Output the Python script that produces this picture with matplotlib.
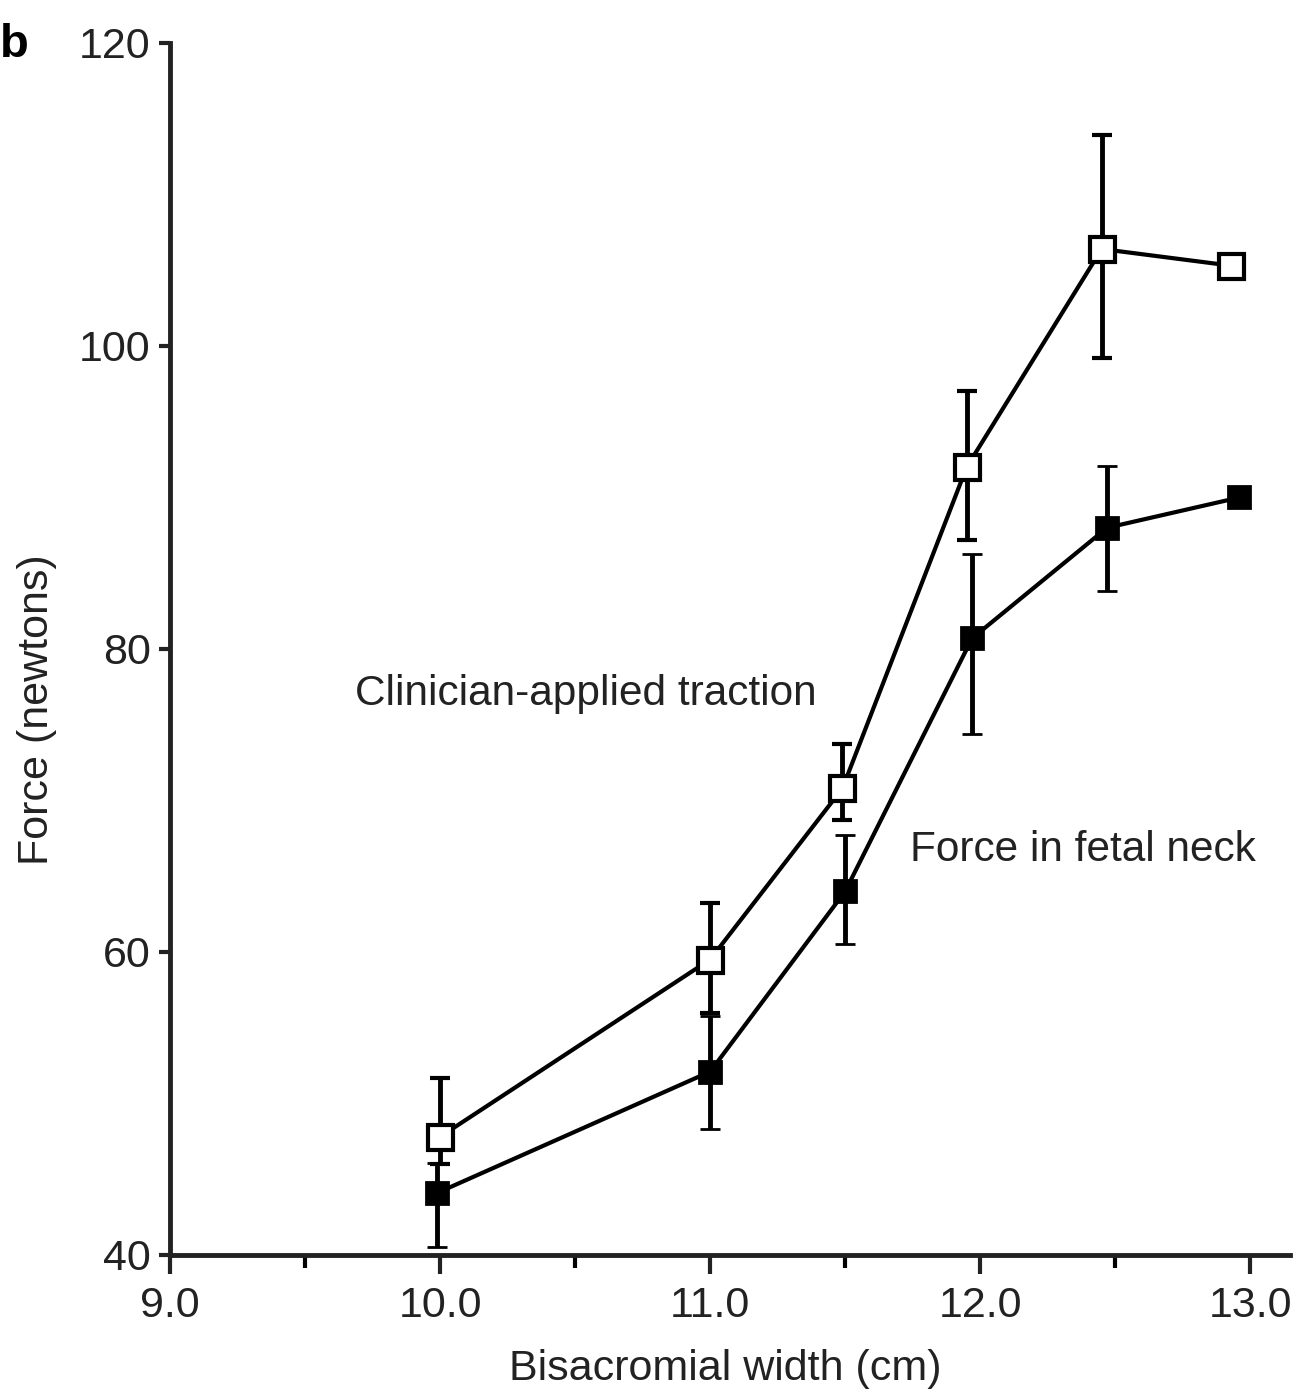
import numpy as np
import matplotlib.pyplot as plt
from matplotlib.ticker import MultipleLocator

plt.rcParams['font.family'] = ['Liberation Sans', 'DejaVu Sans']

# clinician-applied traction (open squares)
x_clin = [10.0, 11.0, 11.49, 11.95, 12.45, 12.93]
y_clin = [47.8, 59.5, 70.8, 92.0, 106.4, 105.3]
err_clin_lo = [1.8, 3.5, 2.1, 4.8, 7.2, 0.0]
err_clin_hi = [3.9, 3.7, 2.9, 5.0, 7.5, 0.0]

# force in fetal neck (filled squares)
x_neck = [9.99, 11.0, 11.5, 11.97, 12.47, 12.96]
y_neck = [44.1, 52.1, 64.0, 80.7, 88.0, 90.0]
err_neck_lo = [3.6, 3.8, 3.5, 6.3, 4.2, 0.0]
err_neck_hi = [2.0, 3.7, 3.7, 5.6, 4.1, 0.0]

fig = plt.figure(figsize=(13.04, 14), dpi=100)
ax = fig.add_axes([0.1304, 0.1036, 0.859, 0.8657])

ax.errorbar(x_clin, y_clin, yerr=[err_clin_lo, err_clin_hi], fmt='s-', color='black',
            mfc='white', mec='black', ms=18, mew=3, lw=3, elinewidth=3.5,
            capsize=7, capthick=3.5, zorder=3)
ax.errorbar(x_neck, y_neck, yerr=[err_neck_lo, err_neck_hi], fmt='s-', color='black',
            mfc='black', mec='black', ms=16, mew=2, lw=3, elinewidth=3.5,
            capsize=7, capthick=3.5, zorder=3)

ax.text(9.685, 77.0, "Clinician-applied traction", fontsize=30.5, color='#222222',
        va='center', ha='left')
ax.text(11.74, 66.7, "Force in fetal neck", fontsize=30.5, color='#222222',
        va='center', ha='left')

ax.set_xlim(9.0, 13.148)
ax.set_ylim(40, 120)
ax.set_xticks([9, 10, 11, 12, 13])
ax.set_xticklabels(["9.0", "10.0", "11.0", "12.0", "13.0"])
ax.xaxis.set_minor_locator(MultipleLocator(0.5))
ax.set_yticks([40, 60, 80, 100, 120])

for s in ['top', 'right']:
    ax.spines[s].set_visible(False)
for s in ['left', 'bottom']:
    ax.spines[s].set_linewidth(3.5)
    ax.spines[s].set_color('#222222')

ax.tick_params(axis='x', which='major', length=14, width=3, direction='out',
               labelsize=31, colors='#222222', pad=8)
ax.tick_params(axis='x', which='minor', length=9, width=3, direction='out')
ax.tick_params(axis='y', which='major', length=8, width=3, direction='out',
               labelsize=31, colors='#222222', pad=6)

ax.set_xlabel("Bisacromial width (cm)", fontsize=31, color='#222222')
ax.set_ylabel("Force (newtons)", fontsize=31, color='#222222')
ax.xaxis.set_label_coords(0.4955, -0.078)
ax.yaxis.set_label_coords(-0.101, 0.45)

fig.text(0.0, 0.968, "b", fontsize=34, fontweight='bold', va='center', ha='left')

fig.savefig("out.png", dpi=100)
